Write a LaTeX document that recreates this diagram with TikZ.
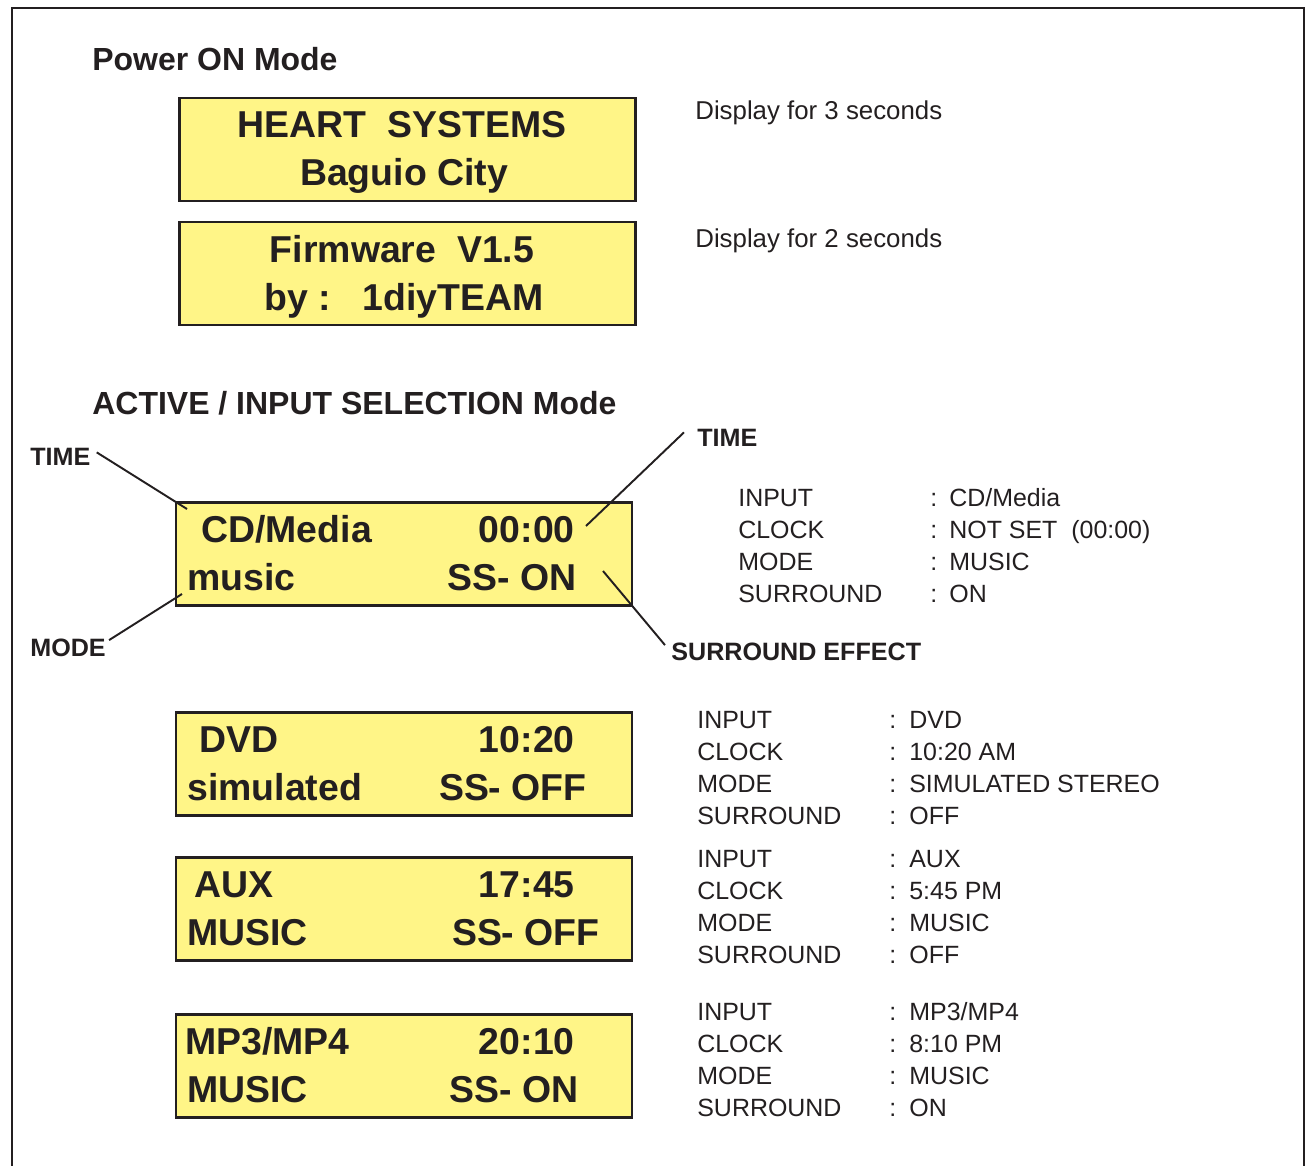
\documentclass[tikz,border=0pt]{standalone}
\usepackage{fontspec}
\setmainfont{Liberation Sans}
\definecolor{lcdyellow}{RGB}{255,245,135}
\definecolor{ink}{RGB}{35,31,32}
\begin{document}
\begin{tikzpicture}[
  x=0.02cm, y=-0.02cm,
  lcd/.style={rectangle, draw=ink, line width=1.4pt, fill=lcdyellow, minimum width=9.13cm, minimum height=2.06cm, inner sep=0pt},
  lcdtxt/.style={inner sep=0pt, text=ink, font=\fontsize{21.3}{25}\selectfont\bfseries},
  head/.style={inner sep=0pt, anchor=base west, text=ink, font=\fontsize{18.2}{22}\selectfont\bfseries},
  note/.style={inner sep=0pt, anchor=base west, text=ink, font=\fontsize{14.2}{17}\selectfont},
  tag/.style={inner sep=0pt, anchor=base west, text=ink, font=\fontsize{14.3}{17}\selectfont\bfseries},
  lead/.style={draw=ink, line width=1.1pt},
]
  \useasboundingbox (0,0) rectangle (1306,1166);
  \draw[ink, line width=1.6pt] (12,1166) -- (12,8) -- (1304,8) -- (1304,1166);

  % Power ON mode
  \node[head] (pwr) at (92,71) {Power ON Mode};
  \node[lcd] (lcd1) at (407.5,149.5) {};
  \node[lcdtxt, anchor=base] (l1a) at (402,138) {HEART~ SYSTEMS};
  \node[lcdtxt, anchor=base] (l1b) at (404,186) {Baguio City};
  \node[note, font=\fontsize{14.7}{17}\selectfont] (d1) at (695,120) {Display for 3 seconds};

  \node[lcd] (lcd2) at (407.5,273.5) {};
  \node[lcdtxt, anchor=base] (l2a) at (402,262) {Firmware~ V1.5};
  \node[lcdtxt, anchor=base] (l2b) at (404,310) {by~:~~~1diyTEAM};
  \node[note, font=\fontsize{14.7}{17}\selectfont] (d2) at (695,247) {Display for 2 seconds};

  % Active / input selection mode
  \node[head] (act) at (92,414) {ACTIVE / INPUT SELECTION Mode};

  \node[lcd] (lcd3) at (404,554) {};
  \node[lcdtxt, anchor=base west] (l3a) at (201,542) {CD/Media};
  \node[lcdtxt, anchor=base east] (l3b) at (575,542) {00:00};
  \node[lcdtxt, anchor=base west] (l3c) at (187,590) {music};
  \node[lcdtxt, anchor=base east] (l3d) at (577,590) {SS- ON};

  % Callouts
  \node[tag] (tml) at (30,465) {TIME};
  \node[tag] (mdl) at (30,656) {MODE};
  \node[tag] (tmr) at (697,446) {TIME};
  \node[tag] (sre) at (671,660) {SURROUND EFFECT};
  \coordinate (tmlend) at (187,509);
  \coordinate (mdlend) at (182,594);
  \coordinate (tmrend) at (586,526);
  \coordinate (sreend) at (603,571);
  \draw[lead] ([shift={(6,5)}]tml.north east) -- (tmlend);
  \draw[lead] ([shift={(3,2)}]mdl.north east) -- (mdlend);
  \draw[lead] ([shift={(-13,4)}]tmr.north west) -- (tmrend);
  \draw[lead] ([shift={(-6,3)}]sre.north west) -- (sreend);

  \foreach \i/\lab/\val in {0/INPUT/{CD/Media}, 1/CLOCK/{NOT SET~~(00:00)}, 2/MODE/MUSIC, 3/SURROUND/ON} {
    \node[note] (ta\i) at (738,506+32*\i) {\lab};
    \node[note] (tac\i) at (930,506+32*\i) {:};
    \node[note] (tav\i) at (949,506+32*\i) {\val};
  }

  \node[lcd] (lcd4) at (404,764) {};
  \node[lcdtxt, anchor=base west] (l4a) at (199,752) {DVD};
  \node[lcdtxt, anchor=base east] (l4b) at (575,752) {10:20};
  \node[lcdtxt, anchor=base west] (l4c) at (187,800) {simulated};
  \node[lcdtxt, anchor=base east] (l4d) at (587,800) {SS- OFF};
  \foreach \i/\lab/\val in {0/INPUT/DVD, 1/CLOCK/{10:20 AM}, 2/MODE/{SIMULATED STEREO}, 3/SURROUND/OFF} {
    \node[note] (tb\i) at (697,728+32*\i) {\lab};
    \node[note] (tbc\i) at (889,728+32*\i) {:};
    \node[note] (tbv\i) at (909,728+32*\i) {\val};
  }

  \node[lcd] (lcd5) at (404,909) {};
  \node[lcdtxt, anchor=base west] (l5a) at (194,897) {AUX};
  \node[lcdtxt, anchor=base east] (l5b) at (575,897) {17:45};
  \node[lcdtxt, anchor=base west] (l5c) at (187,945) {MUSIC};
  \node[lcdtxt, anchor=base east] (l5d) at (600,945) {SS- OFF};
  \foreach \i/\lab/\val in {0/INPUT/AUX, 1/CLOCK/{5:45 PM}, 2/MODE/MUSIC, 3/SURROUND/OFF} {
    \node[note] (tc\i) at (697,867+32*\i) {\lab};
    \node[note] (tcc\i) at (889,867+32*\i) {:};
    \node[note] (tcv\i) at (909,867+32*\i) {\val};
  }

  \node[lcd] (lcd6) at (404,1066) {};
  \node[lcdtxt, anchor=base west] (l6a) at (185,1054) {MP3/MP4};
  \node[lcdtxt, anchor=base east] (l6b) at (575,1054) {20:10};
  \node[lcdtxt, anchor=base west] (l6c) at (187,1102) {MUSIC};
  \node[lcdtxt, anchor=base east] (l6d) at (579,1102) {SS- ON};
  \foreach \i/\lab/\val in {0/INPUT/{MP3/MP4}, 1/CLOCK/{8:10 PM}, 2/MODE/MUSIC, 3/SURROUND/ON} {
    \node[note] (td\i) at (697,1020+32*\i) {\lab};
    \node[note] (tdc\i) at (889,1020+32*\i) {:};
    \node[note] (tdv\i) at (909,1020+32*\i) {\val};
  }
\end{tikzpicture}
\end{document}
